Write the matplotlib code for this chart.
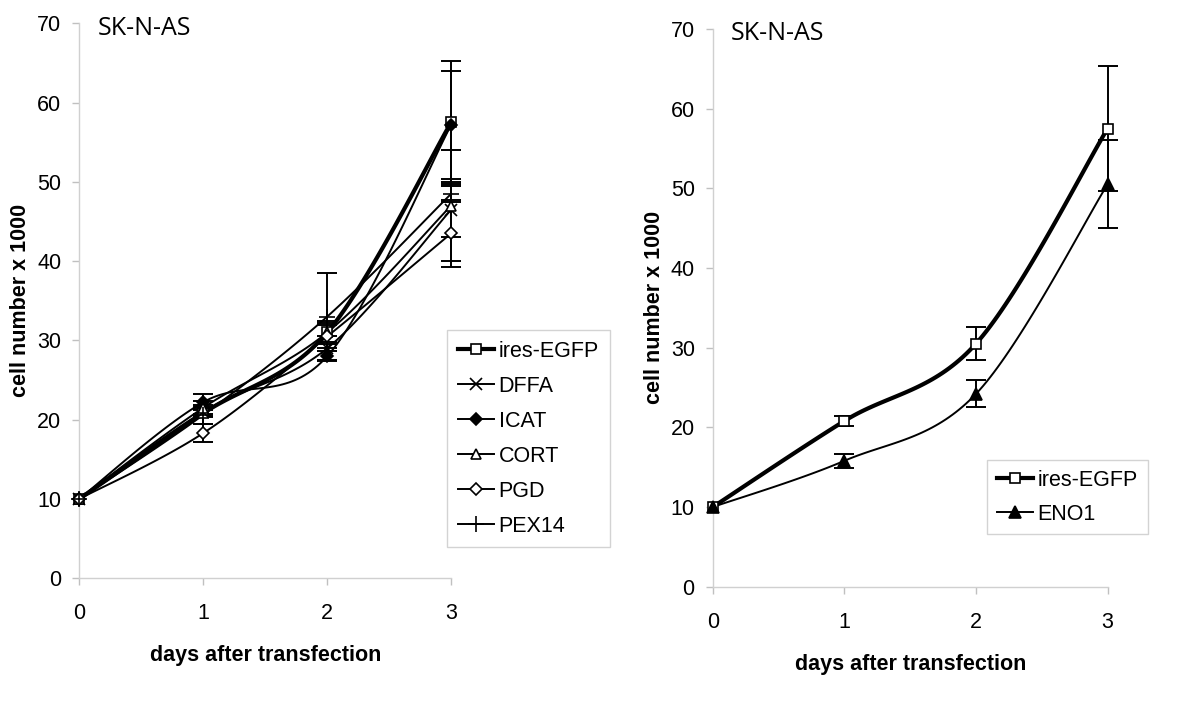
import numpy as np
import matplotlib
matplotlib.use('Agg')
import matplotlib.pyplot as plt
from matplotlib.lines import Line2D

plt.rcParams['font.family'] = ['Liberation Sans', 'DejaVu Sans']

days = [0, 1, 2, 3]

# left panel series (cell number x 1000)
left_names = ['ires-EGFP', 'DFFA', 'ICAT', 'CORT', 'PGD', 'PEX14']
egfp = [10, 20.8, 31.0, 57.5]
egfp_err = [0, 0.5, 1.5, 7.8]
dffa = [10, 21.0, 29.0, 46.5]
dffa_err = [0, 0.6, 1.5, 3.5]
icat = [10, 22.2, 28.0, 57.2]
icat_err = [0, 1.0, 0.6, 6.8]
cort = [10, 21.5, 31.0, 47.0]
cort_err = [0, 0.8, 1.2, 7.0]
pgd = [10, 18.3, 30.5, 43.5]
pgd_err = [0, 1.1, 1.5, 4.2]
pex14 = [10, 20.6, 33.0, 48.5]
pex14_err = [0, 1.2, 5.5, 1.0]

# right panel series
r_egfp = [10, 20.8, 30.5, 57.5]
r_egfp_err = [0, 0.6, 2.1, 7.8]
eno1 = [10, 15.8, 24.2, 50.5]
eno1_err = [0, 0.9, 1.7, 5.5]

ticks_y = [0, 10, 20, 30, 40, 50, 60, 70]
ticks_x = [0, 1, 2, 3]


def smooth(x, y, n=40):
    # Excel-style smoothed line (Catmull-Rom through the points)
    x = np.asarray(x, float)
    y = np.asarray(y, float)
    px = np.concatenate([[x[0]], x, [x[-1]]])
    py = np.concatenate([[y[0]], y, [y[-1]]])
    xs, ys = [], []
    t = np.linspace(0, 1, n)
    for i in range(1, len(px) - 2):
        mx0 = (px[i + 1] - px[i - 1]) / 2
        my0 = (py[i + 1] - py[i - 1]) / 2
        mx1 = (px[i + 2] - px[i]) / 2
        my1 = (py[i + 2] - py[i]) / 2
        h00 = 2 * t**3 - 3 * t**2 + 1
        h10 = t**3 - 2 * t**2 + t
        h01 = -2 * t**3 + 3 * t**2
        h11 = t**3 - t**2
        xs.append(h00 * px[i] + h10 * mx0 + h01 * px[i + 1] + h11 * mx1)
        ys.append(h00 * py[i] + h10 * my0 + h01 * py[i + 1] + h11 * my1)
    return np.concatenate(xs), np.concatenate(ys)


def style_axes(ax, title_x):
    ax.set_xlim(0, 3)
    ax.set_ylim(0, 70)
    ax.set_xticks(ticks_x)
    ax.set_yticks(ticks_y)
    for s in ['top', 'right']:
        ax.spines[s].set_visible(False)
    for s in ['left', 'bottom']:
        ax.spines[s].set_color('#d0d0d0')
        ax.spines[s].set_linewidth(1.0)
    ax.tick_params(axis='both', colors='#c0c0c0', length=5, width=1, labelsize=15.5,
                   labelcolor='black', pad=8)
    ax.tick_params(axis='x', pad=13)
    ax.set_xlabel('days after transfection', fontsize=15.5, fontweight='bold', labelpad=15)
    ax.set_ylabel('cell number x 1000', fontsize=15.5, fontweight='bold', labelpad=4)
    ax.text(title_x, 69.4, 'SK-N-AS', fontsize=18, family='Open Sans', va='center')


def series(ax, y, err, marker, face, lw, ms, mew=1.2):
    sx, sy = smooth(days, y)
    ax.plot(sx, sy, color='black', lw=lw, solid_capstyle='round', clip_on=False, zorder=2)
    ax.errorbar(days[1:], y[1:], yerr=err[1:], fmt='none', ecolor='black',
                elinewidth=1.4, capsize=7, capthick=1.4, zorder=3, clip_on=False)
    ax.plot(days, y, linestyle='none', marker=marker, markerfacecolor=face,
            markeredgecolor='black', markersize=ms, markeredgewidth=mew,
            zorder=4, clip_on=False)
    return Line2D([], [], color='black', lw=lw, marker=marker, markerfacecolor=face,
                  markeredgecolor='black', markersize=ms, markeredgewidth=mew)


fig = plt.figure(figsize=(12, 7.06), dpi=100)
ax1 = fig.add_axes([0.066, 0.181, 0.310, 0.786])
ax2 = fig.add_axes([0.594, 0.169, 0.329, 0.790])

left_data = [
    (egfp, egfp_err, 's', 'white', 3.0, 7),
    (dffa, dffa_err, 'x', 'black', 1.4, 8),
    (icat, icat_err, 'D', 'black', 1.4, 6),
    (cort, cort_err, '^', 'white', 1.4, 7),
    (pgd, pgd_err, 'D', 'white', 1.4, 6),
    (pex14, pex14_err, '+', 'black', 1.4, 11),
]
handles = []
for y, e, m, f, lw, ms in left_data:
    handles.append(series(ax1, y, e, m, f, lw, ms))
style_axes(ax1, 0.15)
leg1 = ax1.legend(handles, left_names, loc='upper left', bbox_to_anchor=(447 / 1200, 1 - 330 / 706),
                  bbox_transform=fig.transFigure, fontsize=15.5, frameon=True, fancybox=False,
                  edgecolor='#c8c8c8', handlelength=1.7, handletextpad=0.2, labelspacing=0.65,
                  borderpad=0.5, borderaxespad=0, numpoints=1)
leg1.get_frame().set_linewidth(1.0)

h_r = [series(ax2, r_egfp, r_egfp_err, 's', 'white', 3.0, 7),
       series(ax2, eno1, eno1_err, '^', 'black', 1.4, 8)]
style_axes(ax2, 0.14)
leg2 = ax2.legend(h_r, ['ires-EGFP', 'ENO1'], loc='upper left', bbox_to_anchor=(987 / 1200, 1 - 460 / 706),
                  bbox_transform=fig.transFigure, fontsize=15.5, frameon=True, fancybox=False,
                  edgecolor='#c8c8c8', handlelength=1.7, handletextpad=0.2, labelspacing=0.6,
                  borderpad=0.45, borderaxespad=0, numpoints=1)
leg2.get_frame().set_linewidth(1.0)

fig.savefig('out.png', dpi=100, facecolor='white')
